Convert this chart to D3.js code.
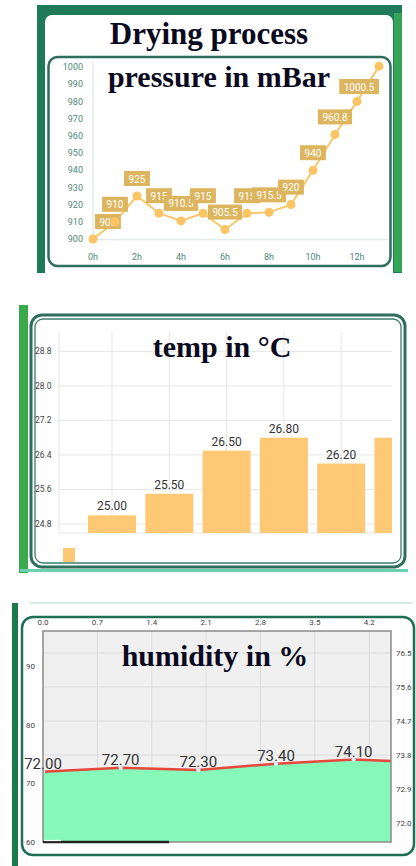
<!DOCTYPE html>
<meta charset="utf-8">
<script src="https://d3js.org/d3.v7.min.js"></script>
<style>
  body { margin: 0; background: #fff; }
  svg { display: block; }
</style>
<div id="my_dataviz"></div>
<script>
// ---- data ----
var pressureHours = [0, 1, 2, 3, 4, 5, 6, 7, 8, 9, 10, 11, 12, 13];
var pressureValues = [900, 910, 925, 915, 910.5, 915, 905.5, 915, 915.5, 920, 940, 960.8, 980, 1000.5];
var pressureTicksX = [0, 2, 4, 6, 8, 10, 12];
var pressureTicksY = [900, 910, 920, 930, 940, 950, 960, 970, 980, 990, 1000];

var tempLabels = ["0h", "1h", "2h", "3h", "4h", "5h"];
var tempValues = [25.00, 25.50, 26.50, 26.80, 26.20, 26.80];
var tempTicks = [24.8, 25.6, 26.4, 27.2, 28.0, 28.8];

var humValues = [72.00, 72.70, 72.30, 73.40, 74.10, 73.60];
var humTicksTop = [0.0, 0.7, 1.4, 2.1, 2.8, 3.5, 4.2];
var humTicksLeft = [60, 70, 80, 90];
var humTicksRight = [72.0, 72.9, 73.8, 74.7, 75.6, 76.5];

var svg = d3.select("#my_dataviz")
  .append("svg")
    .attr("width", 416)
    .attr("height", 866);

var defs = svg.append("defs");
function clip(id, x, y, w, h) {
  defs.append("clipPath").attr("id", id)
    .append("rect").attr("x", x).attr("y", y).attr("width", w).attr("height", h);
}

var serif = "'Liberation Serif', 'Times New Roman', serif";
var sans = "Roboto, 'Liberation Sans', Arial, sans-serif";

// =============== panel 1 : pressure ===============
var p1 = svg.append("g");
p1.append("rect").attr("x", 37).attr("y", 5).attr("width", 365).attr("height", 268).attr("fill", "#1f7a5a");
p1.append("rect").attr("x", 394).attr("y", 13).attr("width", 8).attr("height", 259).attr("fill", "#34a456");
p1.append("rect").attr("x", 45).attr("y", 15).attr("width", 348).attr("height", 270).attr("rx", 7).attr("fill", "#fff");
p1.append("rect").attr("x", 48.5).attr("y", 57).attr("width", 342).attr("height", 209).attr("rx", 9)
  .attr("fill", "#fff").attr("stroke", "#2f6d5c").attr("stroke-width", 2.5);

var x1 = d3.scaleLinear().domain([0, 13]).range([93, 379]);
var y1 = d3.scaleLinear().domain([900, 1000]).range([239, 67]);

p1.append("line").attr("x1", 93).attr("x2", 93).attr("y1", 62).attr("y2", 240)
  .attr("stroke", "#e2ece9").attr("stroke-width", 1.5);
p1.append("line").attr("x1", 93).attr("x2", 388).attr("y1", 239.5).attr("y2", 239.5)
  .attr("stroke", "#e2ece9").attr("stroke-width", 1.5);

p1.selectAll(".ty").data(pressureTicksY).enter().append("text")
  .attr("x", 83).attr("y", function(d) { return y1(d); }).attr("dy", "0.35em")
  .attr("text-anchor", "end").style("font", "9px " + sans).style("fill", "#4f8a78")
  .text(function(d) { return d; });
p1.selectAll(".tx").data(pressureTicksX).enter().append("text")
  .attr("x", function(d) { return x1(d); }).attr("y", 260)
  .attr("text-anchor", "middle").style("font", "9px " + sans).style("fill", "#4f8a78")
  .text(function(d) { return d + "h"; });

var pts = pressureHours.map(function(h, i) { return {h: h, v: pressureValues[i]}; });
p1.append("path").datum(pts)
  .attr("d", d3.line().x(function(d) { return x1(d.h); }).y(function(d) { return y1(d.v); }))
  .attr("fill", "none").attr("stroke", "#f8c76c").attr("stroke-width", 2);

// value labels, kept inside the plot area
var labelLayer = p1.append("g");
var boxes = pts.map(function(d) {
  var t = labelLayer.append("text").style("font", "10px " + sans).text(d.v);
  var w = t.node().getComputedTextLength() + 9;
  t.remove();
  var cx = Math.max(x1(0) + 2 + w / 2, Math.min(x1(13) - w / 2, x1(d.h)));
  var cy = Math.max(87, y1(d.v) - 17);
  return {v: d.v, cx: cx, cy: cy, x0: cx - w / 2, x1: cx + w / 2, y0: cy - 8, y1: cy + 7};
});
// a label fully covered by a later one is not drawn (label auto-hide)
var shown = boxes.filter(function(b, i) {
  return !boxes.slice(i + 1).some(function(o) {
    return o.x0 <= b.x0 && o.x1 >= b.x1 && o.y0 <= b.y0 + 3 && o.y1 >= b.y1 - 3;
  });
});
shown.forEach(function(b) {
  labelLayer.append("rect").attr("x", b.x0).attr("y", b.y0).attr("width", b.x1 - b.x0).attr("height", 15)
    .attr("fill", "#ddb55e");
  labelLayer.append("text").attr("x", b.cx).attr("y", b.cy).attr("dy", "0.35em")
    .attr("text-anchor", "middle").style("font", "10px " + sans).style("fill", "#fff").text(b.v);
});

p1.selectAll(".pt").data(pts).enter().append("circle")
  .attr("cx", function(d) { return x1(d.h); }).attr("cy", function(d) { return y1(d.v); })
  .attr("r", 4.5).attr("fill", "#fcc462");

p1.append("text").attr("x", 209).attr("y", 44).attr("text-anchor", "middle")
  .style("font", "bold 31px " + serif).style("fill", "#0a0a1e").text("Drying process");
p1.append("text").attr("x", 219).attr("y", 87).attr("text-anchor", "middle")
  .style("font", "bold 30px " + serif).style("fill", "#0a0a1e").text("pressure in mBar");

// =============== panel 2 : temperature ===============
var p2 = svg.append("g");
p2.append("rect").attr("x", 19).attr("y", 305).attr("width", 9).attr("height", 268).attr("fill", "#3aa94c");
p2.append("line").attr("x1", 20).attr("x2", 408).attr("y1", 570.5).attr("y2", 570.5)
  .attr("stroke", "#6ccfae").attr("stroke-width", 3);
p2.append("rect").attr("x", 31).attr("y", 315).attr("width", 374).attr("height", 252).attr("rx", 11)
  .attr("fill", "#fff").attr("stroke", "#2e6e5c").attr("stroke-width", 3);
p2.append("rect").attr("x", 35).attr("y", 319).attr("width", 366).attr("height", 244).attr("rx", 8)
  .attr("fill", "none").attr("stroke", "#3d7d6a").attr("stroke-width", 1.3);

var x2 = d3.scaleLinear().domain([-0.925, 4.887]).range([59, 392]);
var y2 = d3.scaleLinear().domain([24.59, 29.25]).range([533, 332]);
clip("clipTemp", 59, 300, 333, 233);

p2.selectAll(".gy").data(tempTicks.concat([24.59])).enter().append("line")
  .attr("x1", 59).attr("x2", 392)
  .attr("y1", function(d) { return y2(d); }).attr("y2", function(d) { return y2(d); })
  .attr("stroke", "#e6e6e6").attr("stroke-width", 1);
p2.selectAll(".gx").data([-0.925, 0, 1, 2, 3, 4]).enter().append("line")
  .attr("x1", function(d) { return x2(d); }).attr("x2", function(d) { return x2(d); })
  .attr("y1", 332).attr("y2", 533)
  .attr("stroke", "#e6e6e6").attr("stroke-width", 1);

p2.selectAll(".ty").data(tempTicks).enter().append("text")
  .attr("x", 35).attr("y", function(d) { return y2(d); }).attr("dy", "0.35em")
  .style("font", "8.5px " + sans).style("fill", "#444")
  .text(function(d) { return d.toFixed(1); });

var bars = p2.append("g").attr("clip-path", "url(#clipTemp)");
bars.selectAll(".bar").data(tempValues).enter().append("rect")
  .attr("x", function(d, i) { return x2(i) - 24; }).attr("width", 48)
  .attr("y", function(d) { return y2(d); }).attr("height", function(d) { return 533 - y2(d); })
  .attr("fill", "#ffc874");
// labels only for bars whose centre is inside the visible area
bars.selectAll(".bl").data(tempValues.filter(function(d, i) { return x2(i) < 392; })).enter().append("text")
  .attr("x", function(d, i) { return x2(i); }).attr("y", function(d) { return y2(d) - 5; })
  .attr("text-anchor", "middle").style("font", "12px " + sans).style("fill", "#333")
  .text(function(d) { return d.toFixed(2); });
bars.selectAll(".tx").data(tempLabels).enter().append("text")
  .attr("x", function(d, i) { return x2(i); }).attr("y", 544)
  .attr("text-anchor", "middle").style("font", "7.5px " + sans).style("fill", "#555")
  .text(function(d) { return d; });

clip("clipLegend", 36, 540, 100, 22);
p2.append("rect").attr("clip-path", "url(#clipLegend)")
  .attr("x", 63).attr("y", 548).attr("width", 12).attr("height", 20).attr("fill", "#ffc874");

p2.append("text").attr("x", 222).attr("y", 357).attr("text-anchor", "middle")
  .style("font", "bold 30px " + serif).style("fill", "#0a0a1e").text("temp in \u00b0C");

// =============== panel 3 : humidity ===============
var p3 = svg.append("g");
p3.append("line").attr("x1", 30).attr("x2", 412).attr("y1", 603).attr("y2", 603)
  .attr("stroke", "#d8eae4").attr("stroke-width", 2);
p3.append("rect").attr("x", 12).attr("y", 603).attr("width", 6).attr("height", 263).attr("fill", "#1b7a4c");
p3.append("rect").attr("x", 22).attr("y", 617).attr("width", 392).attr("height", 238).attr("rx", 11)
  .attr("fill", "#fff").attr("stroke", "#1f6f55").attr("stroke-width", 2.5);

var x3 = d3.scaleLinear().domain([0, 4.48]).range([43, 391]);
var y3 = d3.scaleLinear().domain([60, 96.1]).range([842, 631]);
var y3r = d3.scaleLinear().domain([71.5, 77.08]).range([842, 631]);
clip("clipHum", 43, 631, 348, 211);

p3.append("rect").attr("x", 43).attr("y", 631).attr("width", 348).attr("height", 211).attr("fill", "#f0f0f0");
p3.selectAll(".gx").data(humTicksTop.slice(1)).enter().append("line")
  .attr("x1", function(d) { return x3(d); }).attr("x2", function(d) { return x3(d); })
  .attr("y1", 631).attr("y2", 842).attr("stroke", "#dcdcdc");
p3.selectAll(".gy").data(humTicksRight).enter().append("line")
  .attr("x1", 43).attr("x2", 391)
  .attr("y1", function(d) { return y3r(d); }).attr("y2", function(d) { return y3r(d); })
  .attr("stroke", "#dcdcdc");

var hum = humValues.map(function(v, i) { return {i: i, v: v}; });
var plot3 = p3.append("g").attr("clip-path", "url(#clipHum)");
plot3.append("path").datum(hum)
  .attr("d", d3.area().x(function(d) { return x3(d.i); }).y0(842).y1(function(d) { return y3(d.v); }))
  .attr("fill", "#86f9b9");
plot3.append("path").datum(hum)
  .attr("d", d3.line().x(function(d) { return x3(d.i); }).y(function(d) { return y3(d.v); }))
  .attr("fill", "none").attr("stroke", "#e6463c").attr("stroke-width", 2.5);
plot3.selectAll(".pt").data(hum).enter().append("circle")
  .attr("cx", function(d) { return x3(d.i); }).attr("cy", function(d) { return y3(d.v); })
  .attr("r", 2.2).attr("fill", "#cdeef5");

p3.append("rect").attr("x", 43).attr("y", 631).attr("width", 348).attr("height", 211)
  .attr("fill", "none").attr("stroke", "#8a8a8a").attr("stroke-width", 1.5);

p3.selectAll(".dl").data(hum.filter(function(d) { return x3(d.i) < 391; })).enter().append("text")
  .attr("x", function(d) { return x3(d.i); }).attr("y", function(d) { return y3(d.v) - 3; })
  .attr("text-anchor", "middle").style("font", "15px " + sans).style("fill", "#333")
  .text(function(d) { return d.v.toFixed(2); });

p3.selectAll(".tt").data(humTicksTop).enter().append("text")
  .attr("x", function(d) { return x3(d); }).attr("y", 625)
  .attr("text-anchor", "middle").style("font", "8px " + sans).style("fill", "#444")
  .text(function(d) { return d.toFixed(1); });
p3.selectAll(".tl").data(humTicksLeft).enter().append("text")
  .attr("x", 26).attr("y", function(d) { return y3(d); }).attr("dy", "0.35em")
  .style("font", "8px " + sans).style("fill", "#444")
  .text(function(d) { return d; });
p3.selectAll(".tr").data(humTicksRight).enter().append("text")
  .attr("x", 396).attr("y", function(d) { return y3r(d); }).attr("dy", "0.35em")
  .style("font", "8px " + sans).style("fill", "#444")
  .text(function(d) { return d.toFixed(1); });

// scrollbar strip
p3.append("line").attr("x1", 43).attr("x2", 169).attr("y1", 842).attr("y2", 842)
  .attr("stroke", "#222").attr("stroke-width", 2.5);
p3.append("line").attr("x1", 44).attr("x2", 61).attr("y1", 840.5).attr("y2", 840.5)
  .attr("stroke", "#fff").attr("stroke-width", 1.2);

p3.append("text").attr("x", 215).attr("y", 666).attr("text-anchor", "middle")
  .style("font", "bold 30px " + serif).style("fill", "#0a0a1e").text("humidity in %");
</script>
